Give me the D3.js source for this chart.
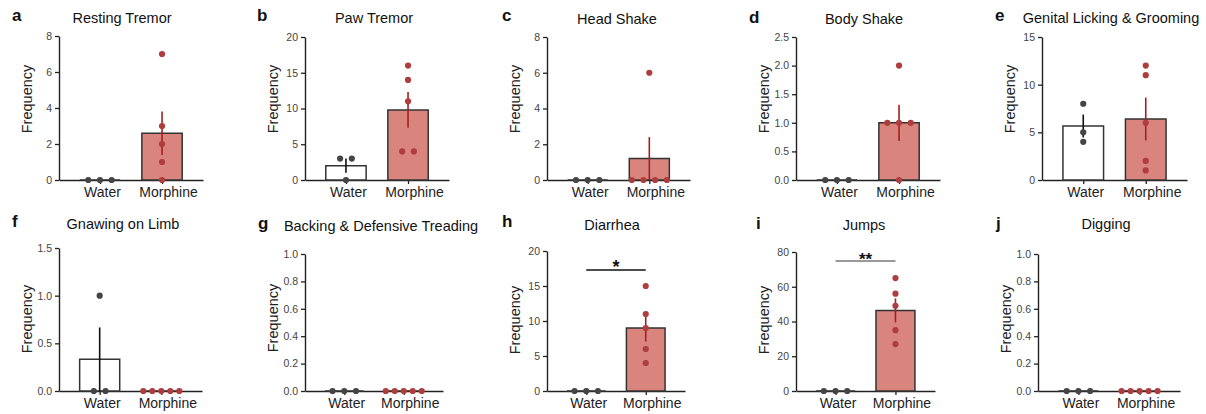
<!DOCTYPE html>
<html>
<head>
<meta charset="utf-8">
<script src="https://cdn.jsdelivr.net/npm/d3@7"></script>
<style>
  body { margin: 0; background: #fff; }
  svg { display: block; font-family: "Liberation Sans", Arial, Helvetica, sans-serif; }
</style>
</head>
<body>
<div class="chart"></div>
<script>
var width = 1206;
var height = 414;

// data
var groups = ["Water", "Morphine"];
var panelLetters = ["a", "b", "c", "d", "e", "f", "g", "h", "i", "j"];
var titles = ["Resting Tremor", "Paw Tremor", "Head Shake", "Body Shake", "Genital Licking & Grooming",
              "Gnawing on Limb", "Backing & Defensive Treading", "Diarrhea", "Jumps", "Digging"];
var waterValues = [[0, 0, 0], [3, 3, 0], [0, 0, 0], [0, 0, 0], [8, 5, 4],
                   [1, 0, 0], [0, 0, 0], [0, 0, 0], [0, 0, 0], [0, 0, 0]];
var morphineValues = [[7, 3, 2, 1, 0], [16, 14, 11, 4, 4], [6, 0, 0, 0, 0], [2, 1, 1, 1, 0], [12, 11, 6, 2, 1],
                      [0, 0, 0, 0, 0], [0, 0, 0, 0, 0], [15, 11, 9, 6, 4], [65, 56, 49, 35, 27], [0, 0, 0, 0, 0]];
var yMax = [8, 20, 8, 2.5, 15, 1.5, 1.0, 20, 80, 1.0];
var yStep = [2, 5, 2, 0.5, 5, 0.5, 0.2, 5, 20, 0.2];
var significance = [null, null, null, null, null, null, null, "*", "**", null];

// where each panel sits on the page
var layout = [
  {ax: 59,   top: 36,  y0: 180, w: 144, lx: 12,  ly: 21,  tx: 122,  ty: 23,  fy: 99},
  {ax: 305,  top: 37,  y0: 180, w: 144, lx: 257, ly: 21,  tx: 374,  ty: 23,  fy: 99},
  {ax: 547,  top: 37,  y0: 180, w: 143, lx: 502, ly: 21,  tx: 617,  ty: 24,  fy: 99},
  {ax: 796,  top: 37,  y0: 180, w: 144, lx: 749, ly: 23,  tx: 864,  ty: 24,  fy: 99},
  {ax: 1042, top: 37,  y0: 180, w: 145, lx: 995, ly: 21,  tx: 1111, ty: 23,  fy: 99},
  {ax: 59,   top: 248, y0: 391, w: 143, lx: 12,  ly: 227, tx: 123,  ty: 229, fy: 319},
  {ax: 305,  top: 254, y0: 391, w: 138, lx: 258, ly: 229, tx: 381,  ty: 231, fy: 318},
  {ax: 547,  top: 251, y0: 391, w: 138, lx: 502, ly: 227, tx: 612,  ty: 230, fy: 320},
  {ax: 796,  top: 252, y0: 391, w: 139, lx: 756, ly: 229, tx: 864,  ty: 230, fy: 320},
  {ax: 1038, top: 254, y0: 391, w: 142, lx: 996, ly: 229, tx: 1106, ty: 229, fy: 319}
];
var sigLayout = {7: {lineY: 270, starY: 273, size: 18, color: "#111"},
                 8: {lineY: 261, starY: 265, size: 17, color: "#777"}};

var barFill = {Water: "#ffffff", Morphine: "#d9857e"};
var dotColor = {Water: "#454545", Morphine: "#b03d3d"};
var errColor = {Water: "#111111", Morphine: "#a32020"};
var labelShift = {Water: 2, Morphine: 6};

var svg = d3.select(".chart").append("svg").attr("width", width).attr("height", height);

function mean(a) { return d3.mean(a); }
function sem(a) { return a.length > 1 ? d3.deviation(a) / Math.sqrt(a.length) : 0; }

/* spread points that share a value side by side */
function dotOffsets(values) {
  var counts = {}, seen = {};
  values.forEach(function(v) { counts[v] = (counts[v] || 0) + 1; });
  return values.map(function(v) {
    var k = counts[v];
    var i = seen[v] || 0;
    seen[v] = i + 1;
    var s = k <= 4 ? 11.7 : 9;
    return (i - (k - 1) / 2) * s;
  });
}

function drawPanel(p) {
  var L = layout[p];
  var g = svg.append("g").attr("transform", "translate(" + L.ax + ",0)");

  var x = d3.scalePoint().domain(groups).range([0, L.w]).padding(0.66);
  var y = d3.scaleLinear().domain([0, yMax[p]]).range([L.y0, L.top]);
  var barW = x.step() * 0.65;

  var ticks = d3.range(0, yMax[p] + yStep[p] / 2, yStep[p]);
  var fmt = yStep[p] < 1 ? d3.format(".1f") : d3.format("d");

  var yAxis = g.append("g")
    .call(d3.axisLeft(y).tickValues(ticks).tickFormat(fmt).tickSize(4).tickSizeOuter(0));
  yAxis.selectAll("text").attr("font-size", 10.5).attr("fill", "#444").attr("x", -7);
  yAxis.selectAll("line").attr("stroke", "#222").attr("stroke-width", 1.3);
  yAxis.select(".domain").attr("stroke", "#222").attr("stroke-width", 1.4);

  var xAxis = g.append("g").attr("transform", "translate(0," + L.y0 + ")")
    .call(d3.axisBottom(x).tickSize(4).tickSizeOuter(0));
  xAxis.selectAll("text").attr("font-size", 14).attr("fill", "#222")
    .attr("dx", function(d) { return labelShift[d]; });
  xAxis.selectAll("line").attr("stroke", "#222").attr("stroke-width", 1.3);
  xAxis.select(".domain").attr("stroke", "#222").attr("stroke-width", 1.4);

  var sets = [waterValues[p], morphineValues[p]];
  groups.forEach(function(grp, gi) {
    var vals = sets[gi];
    var m = mean(vals), e = sem(vals);
    var cx = x(grp);
    // bar (open at the bottom, so a zero mean becomes a flat line)
    g.append("path")
      .attr("d", "M" + (cx - barW / 2) + "," + y(0) + "V" + y(m) + "H" + (cx + barW / 2) + "V" + y(0) + "Z")
      .attr("fill", barFill[grp])
      .attr("stroke", "#333")
      .attr("stroke-width", 1.5);
    if (e > 0) {
      g.append("line")
        .attr("x1", cx).attr("x2", cx)
        .attr("y1", y(Math.max(0, m - e))).attr("y2", y(m + e))
        .attr("stroke", errColor[grp]).attr("stroke-width", 1.6);
    }
    var offs = dotOffsets(vals);
    g.selectAll(".dot-" + grp).data(vals).enter().append("circle")
      .attr("cx", function(d, i) { return cx + offs[i]; })
      .attr("cy", function(d) { return y(d); })
      .attr("r", 3.1)
      .attr("fill", dotColor[grp]);
  });

  // y label
  svg.append("text")
    .attr("transform", "translate(" + (L.ax - 32) + "," + L.fy + ") rotate(-90)")
    .attr("text-anchor", "middle").attr("dy", "0.35em")
    .attr("font-size", 14.5).attr("fill", "#222")
    .text("Frequency");

  // title and panel letter
  svg.append("text").attr("x", L.tx).attr("y", L.ty)
    .attr("text-anchor", "middle").attr("font-size", 14.5).attr("fill", "#111")
    .text(titles[p]);
  svg.append("text").attr("x", L.lx).attr("y", L.ly)
    .attr("font-size", 17).attr("font-weight", "bold").attr("fill", "#111")
    .text(panelLetters[p]);

  if (significance[p]) {
    var S = sigLayout[p];
    g.append("line")
      .attr("x1", x(groups[0])).attr("x2", x(groups[1]))
      .attr("y1", S.lineY).attr("y2", S.lineY)
      .attr("stroke", S.color).attr("stroke-width", 1.3);
    g.append("text")
      .attr("x", (x(groups[0]) + x(groups[1])) / 2).attr("y", S.starY)
      .attr("text-anchor", "middle").attr("font-size", S.size).attr("font-weight", "bold")
      .attr("fill", "#111")
      .text(significance[p]);
  }
}

d3.range(titles.length).forEach(drawPanel);
</script>
</body>
</html>
